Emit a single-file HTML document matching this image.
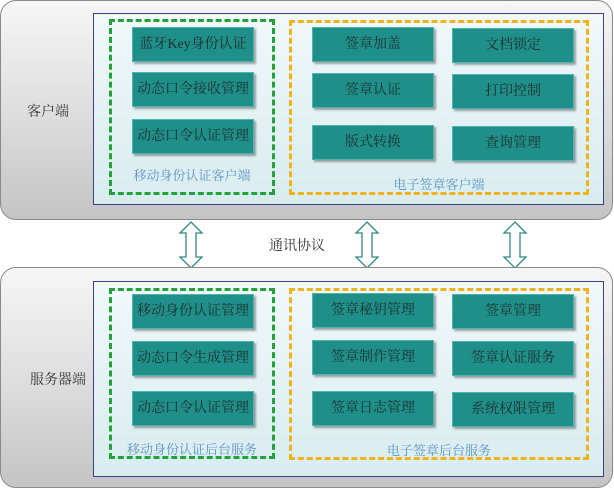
<!DOCTYPE html>
<html><head><meta charset="utf-8"><style>
body{margin:0;width:614px;height:488px;background:#fff;position:relative;overflow:hidden;font-family:"Liberation Serif","Noto Serif CJK SC","Noto Sans CJK SC",serif}
div{position:absolute;box-sizing:border-box}
.outer{left:0;width:613px;border:1.5px solid #8a8a8a;border-radius:16px;background:linear-gradient(180deg,#f6f6f6 0%,#dcdcdc 55%,#c4c4c4 100%)}
.inner{left:93px;width:511px;border:1.5px solid #3c3f8c;background:linear-gradient(180deg,#f1f8fa,#d8ecef)}
.g{border:3px dashed #22a33a}
.o{border:3px dashed #f2b21a}
.b{width:122px;height:35px;background:#1f8f8a;color:#1d2f2f;font-size:14px;line-height:34px;text-align:center;box-shadow:2px 2px 2px rgba(0,0,0,.35);border:1px solid #4fb3ae;white-space:nowrap}
.cap{color:#5c93c4;font-size:13px;text-align:center}
.lab{font-size:14px;color:#333}
</style></head><body>
<div class="outer" style="top:0;height:220px"></div>
<div class="inner" style="top:13px;height:192px"></div>
<div class="g" style="left:109px;top:19px;width:166px;height:176px"></div>
<div class="o" style="left:289px;top:20px;width:300px;height:175px"></div>
<div class="lab" style="left:27px;top:101px">客户端</div>
<div class="b" style="left:132px;top:27px">蓝牙Key身份认证</div>
<div class="b" style="left:132px;top:72px">动态口令接收管理</div>
<div class="b" style="left:132px;top:119px">动态口令认证管理</div>
<div class="cap" style="left:110px;top:165px;width:164px">移动身份认证客户端</div>
<div class="b" style="left:312px;top:27px">签章加盖</div>
<div class="b" style="left:312px;top:73px">签章认证</div>
<div class="b" style="left:312px;top:125px">版式转换</div>
<div class="b" style="left:452px;top:28px">文档锁定</div>
<div class="b" style="left:452px;top:74px">打印控制</div>
<div class="b" style="left:452px;top:126px">查询管理</div>
<div class="cap" style="left:290px;top:174px;width:298px">电子签章客户端</div>

<svg style="position:absolute;left:0;top:0" width="614" height="488">
<g fill="#fff" stroke="#2e8a84" stroke-width="1.3">
<path d="M191 222 L202 233 L196 233 L196 257 L202 257 L191 268 L180 257 L186 257 L186 233 L180 233 Z"/>
<path d="M367 222 L378 233 L372 233 L372 257 L378 257 L367 268 L356 257 L362 257 L362 233 L356 233 Z"/>
<path d="M515 222 L526 233 L520 233 L520 257 L526 257 L515 268 L504 257 L510 257 L510 233 L504 233 Z"/>
</g></svg>
<div class="lab" style="left:269px;top:235px">通讯协议</div>

<div class="outer" style="top:267px;height:221px"></div>
<div class="inner" style="top:281px;height:196px"></div>
<div class="g" style="left:109px;top:288px;width:166px;height:171px"></div>
<div class="o" style="left:289px;top:288px;width:300px;height:172px"></div>
<div class="lab" style="left:30px;top:369px">服务器端</div>
<div class="b" style="left:132px;top:294px">移动身份认证管理</div>
<div class="b" style="left:132px;top:341px">动态口令生成管理</div>
<div class="b" style="left:132px;top:391px">动态口令认证管理</div>
<div class="cap" style="left:110px;top:439px;width:164px">移动身份认证后台服务</div>
<div class="b" style="left:312px;top:293px">签章秘钥管理</div>
<div class="b" style="left:312px;top:340px">签章制作管理</div>
<div class="b" style="left:312px;top:391px">签章日志管理</div>
<div class="b" style="left:452px;top:294px">签章管理</div>
<div class="b" style="left:452px;top:341px">签章认证服务</div>
<div class="b" style="left:452px;top:392px">系统权限管理</div>
<div class="cap" style="left:290px;top:440px;width:298px">电子签章后台服务</div>
</body></html>
